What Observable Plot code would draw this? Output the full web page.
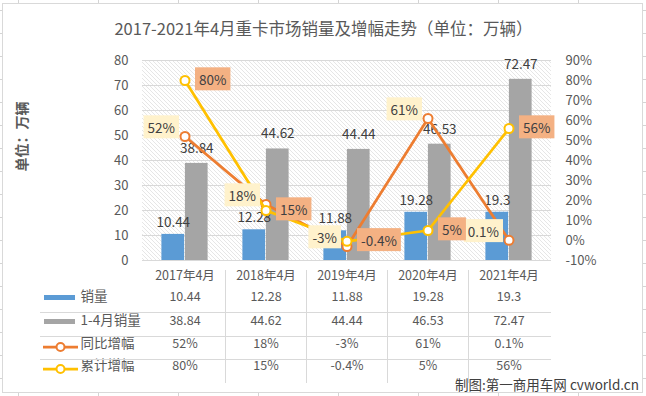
<!DOCTYPE html>
<html><head><meta charset="utf-8">
<script src="https://cdn.jsdelivr.net/npm/d3@7"></script>
<script src="https://cdn.jsdelivr.net/npm/@observablehq/plot@0.6"></script>
<style>
html,body{margin:0;padding:0;background:#fff;}
#chart{position:relative;width:646px;height:396px;}
</style></head><body><div id="chart"></div>
<script>
// ---- data ----
const categories = ["2017年4月","2018年4月","2019年4月","2020年4月","2021年4月"];
const aprilSales = [10.44, 12.28, 11.88, 19.28, 19.3];
const ytdSales   = [38.84, 44.62, 44.44, 46.53, 72.47];
const yoyGrowth  = [52, 18, -3, 61, 0.1];
const ytdGrowth  = [80, 15, -0.4, 5, 56];
const yoyLabels  = ["52%","18%","-3%","61%","0.1%"];
const ytdLabels  = ["80%","15%","-0.4%","5%","56%"];
const leftTicks  = [0,10,20,30,40,50,60,70,80];
const rightTicks = [-10,0,10,20,30,40,50,60,70,80,90];
const seriesNames = ["销量","1-4月销量","同比增幅","累计增幅"];
const titleText = "2017-2021年4月重卡市场销量及增幅走势（单位：万辆）";
const yTitle = "单位：万辆";
const caption = "制图:第一商用车网 cvworld.cn";

// ---- layout ----
const W = 646, H = 396;
const mL = 142, mR = 95, mT = 60, mB = 136;
const bw = (W - mL - mR) / categories.length;
const barW = 23.5;
const pctToY = p => (p + 10) * 0.8;          // right axis (-10%..90%) onto left (0..80)
const yToPct = v => Math.round(v / 0.8 - 10);
const font = "'Noto Sans CJK SC', 'Noto Sans', sans-serif";

const rows = categories.map((cat, i) => ({
  cat, april: aprilSales[i], ytd: ytdSales[i],
  yoy: yoyGrowth[i], cum: ytdGrowth[i],
  yoyLabel: yoyLabels[i], cumLabel: ytdLabels[i]
}));

const tableGetters = [d => String(d.april), d => String(d.ytd), d => d.yoyLabel, d => d.cumLabel];
const headerDy = 19;
const rowDy = [40, 64, 87, 109];

const tableMarks = [];
tableMarks.push(Plot.text(rows, {x: "cat", text: "cat", frameAnchor: "bottom", dy: headerDy, fontSize: 12.5, fill: "#595959"}));
tableGetters.forEach((g, k) => {
  tableMarks.push(Plot.text(rows, {x: "cat", text: g, frameAnchor: "bottom", dy: rowDy[k], fontSize: 12.5, fill: "#595959"}));
  tableMarks.push(Plot.text([seriesNames[k]], {frameAnchor: "bottom-left", dx: -62, dy: rowDy[k], textAnchor: "start", fontSize: 13.5, fill: "#595959"}));
});

const plot = Plot.plot({
  width: W, height: H,
  marginLeft: mL, marginRight: mR, marginTop: mT, marginBottom: mB,
  style: {fontFamily: font, background: "transparent", overflow: "visible"},
  x: {type: "band", domain: categories, padding: 0, axis: null},
  y: {domain: [0, 80], axis: null},
  marks: [
    Plot.gridY(leftTicks, {stroke: "#d9d9d9", strokeOpacity: 1, strokeWidth: 1}),
    Plot.axisY(leftTicks, {anchor: "left", tickSize: 0, tickPadding: 14, fontSize: 13, fill: "#595959", label: null}),
    Plot.axisY(rightTicks.map(pctToY), {anchor: "right", tickSize: 0, tickPadding: 14, fontSize: 13, fill: "#595959", label: null, tickFormat: v => `${yToPct(v)}%`}),
    Plot.barY(rows, {x: "cat", y: "april", fill: "#5B9BD5", insetLeft: bw / 2 - barW, insetRight: bw / 2}),
    Plot.barY(rows, {x: "cat", y: "ytd", fill: "#A5A5A5", insetLeft: bw / 2, insetRight: bw / 2 - barW}),
    Plot.text(rows, {x: "cat", y: "april", text: d => String(d.april), dx: -barW / 2, dy: -12, fontSize: 13.5, fill: "#404040"}),
    Plot.text(rows, {x: "cat", y: "ytd", text: d => String(d.ytd), dx: barW / 2, dy: -15, fontSize: 13.5, fill: "#404040"}),
    Plot.line(rows, {x: "cat", y: d => pctToY(d.yoy), stroke: "#ED7D31", strokeWidth: 2.75}),
    Plot.dot(rows, {x: "cat", y: d => pctToY(d.yoy), r: 4.5, fill: "white", stroke: "#ED7D31", strokeWidth: 2}),
    Plot.line(rows, {x: "cat", y: d => pctToY(d.cum), stroke: "#FFC000", strokeWidth: 2.75}),
    Plot.dot(rows, {x: "cat", y: d => pctToY(d.cum), r: 4.5, fill: "white", stroke: "#FFC000", strokeWidth: 2}),
    Plot.text(rows, {x: "cat", y: d => pctToY(d.yoy), text: "yoyLabel", textAnchor: "end", dx: -10, dy: -8, fontSize: 13.5, fill: "#404041"}),
    Plot.text(rows, {x: "cat", y: d => pctToY(d.cum), text: "cumLabel", textAnchor: "start", dx: 14, dy: 0, fontSize: 13.5, fill: "#404042"}),
    Plot.text([titleText], {frameAnchor: "top", dx: W / 2 - (mL + (W - mL - mR) / 2), dy: -37, fontSize: 16.5, fill: "#595959"}),
    Plot.text([yTitle], {frameAnchor: "left", dx: -120, dy: 11, rotate: -90, fontSize: 14, fontWeight: "bold", fill: "#595959"}),
    ...tableMarks
  ]
});

document.getElementById("chart").appendChild(plot);
const svgSel = d3.select(plot);
const NS = "http://www.w3.org/2000/svg";

// hatch pattern
const defs = svgSel.insert("defs", ":first-child");
const pat = defs.append("pattern").attr("id", "hatchp").attr("patternUnits", "userSpaceOnUse")
  .attr("width", 4).attr("height", 4);
pat.append("rect").attr("width", 4).attr("height", 4).attr("fill", "#ffffff");
pat.append("path").attr("d", "M0,0 L4,4 M3,-1 L5,1 M-1,3 L1,5")
  .attr("stroke", "#e0e0e0").attr("stroke-width", 0.8);

// background: sheet stubs + chart frame + hatched plot area (behind everything)
const bgG = d3.select(plot.insertBefore(document.createElementNS(NS, "g"), defs.node().nextSibling));
for (let k = 0; k < 8; k++) {
  const x = 18 + 80 * k + 0.5;
  bgG.append("line").attr("x1", x).attr("x2", x).attr("y1", 0).attr("y2", 3).attr("stroke", "#d4d4d4");
  bgG.append("line").attr("x1", x).attr("x2", x).attr("y1", 392).attr("y2", 396).attr("stroke", "#d4d4d4");
}
for (let k = 0; k < 17; k++) {
  const y = 10.5 + 23 * k;
  bgG.append("line").attr("x1", 0).attr("x2", 2).attr("y1", y).attr("y2", y).attr("stroke", "#d4d4d4");
  bgG.append("line").attr("x1", 643).attr("x2", 646).attr("y1", y).attr("y2", y).attr("stroke", "#d4d4d4");
}
bgG.append("rect").attr("x", 2.5).attr("y", 3.5).attr("width", 640).attr("height", 389)
  .attr("fill", "#ffffff").attr("stroke", "#d9d9d9");
const xs = plot.scale("x"), ys = plot.scale("y");
const [xr0, xr1] = xs.range, [yr0, yr1] = ys.range;
bgG.append("rect").attr("x", Math.min(xr0, xr1)).attr("y", Math.min(yr0, yr1))
  .attr("width", Math.abs(xr1 - xr0)).attr("height", Math.abs(yr1 - yr0)).attr("fill", "url(#hatchp)");

// label boxes
function addBoxes(key, color) {
  plot.querySelectorAll(`g[fill="${key}"] text`).forEach(t => {
    const b = t.getBBox();
    const r = document.createElementNS(NS, "rect");
    r.setAttribute("x", b.x - 4); r.setAttribute("y", b.y - 1.5);
    r.setAttribute("width", b.width + 8); r.setAttribute("height", b.height + 3);
    r.setAttribute("fill", color);
    const tr = t.getAttribute("transform"); if (tr) r.setAttribute("transform", tr);
    t.parentNode.insertBefore(r, t);
  });
}
addBoxes("#404041", "#FFF2CC");
addBoxes("#404042", "#F4B183");

// data table lines & legend keys
const fg = svgSel.append("g");
categories.slice(1).forEach(c => {
  const x = Math.round(xs.apply(c)) + 0.5;
  fg.append("line").attr("x1", x).attr("x2", x).attr("y1", 270).attr("y2", 383).attr("stroke", "#d9d9d9");
});
[312, 336, 359].forEach(y => {
  fg.append("line").attr("x1", 40).attr("x2", W - mR).attr("y1", y + 0.5).attr("y2", y + 0.5).attr("stroke", "#d9d9d9");
});
const keyY = rowDy.map(d => H - mB + d);
fg.append("rect").attr("x", 44).attr("y", keyY[0] - 5).attr("width", 31).attr("height", 5).attr("fill", "#5B9BD5");
fg.append("rect").attr("x", 44).attr("y", keyY[1] - 5).attr("width", 31).attr("height", 5).attr("fill", "#A5A5A5");
[["#ED7D31", keyY[2]], ["#FFC000", keyY[3]]].forEach(([c, y]) => {
  fg.append("line").attr("x1", 43).attr("x2", 78).attr("y1", y).attr("y2", y).attr("stroke", c).attr("stroke-width", 2.75);
  fg.append("circle").attr("cx", 60.5).attr("cy", y).attr("r", 4).attr("fill", "white").attr("stroke", c).attr("stroke-width", 2);
});
fg.append("text").attr("x", 639).attr("y", 385).attr("dy", "0.35em").attr("text-anchor", "end")
  .attr("font-size", 13.5).attr("fill", "#404040").text(caption);
</script>
</body></html>
